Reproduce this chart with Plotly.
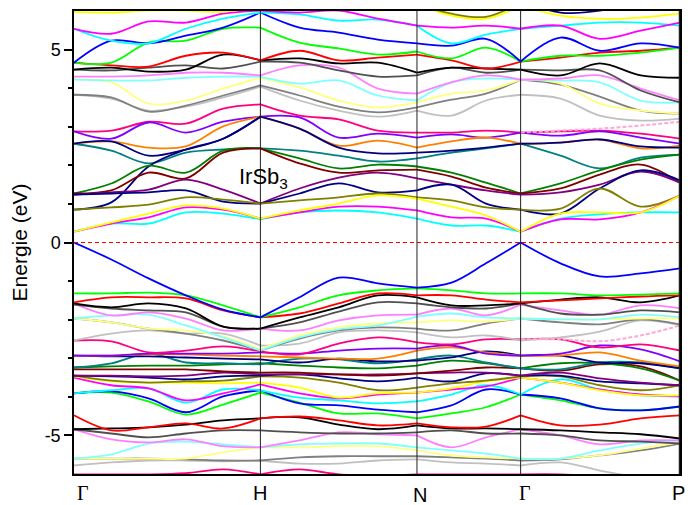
import plotly.graph_objects as go

# k-path sampling (path length units, Gamma-H = 1)
K = [0.0, 0.2, 0.4, 0.6, 0.8, 1.0, 1.21, 1.42, 1.63, 1.84, 2.025, 2.21, 2.396, 2.61, 2.82, 3.04, 3.251]
HIGH_SYM = [0.0, 1.0, 1.84, 2.396, 3.251]
HIGH_SYM_LABELS = ["Γ", "H", "N", "Γ", "P"]
SEG_IDX = [(0, 5), (5, 9), (9, 12), (12, 16)]
N_ = None

# ---- conduction bands (eV) ----
CB_CYAN = [0.28,0.49,0.49,0.78,0.75,0.60,0.78,0.83,0.78,0.62,0.44,0.44,0.28,0.62,0.73,0.78,0.78]
CB_YELLOW = [0.28,0.52,0.75,0.96,0.88,0.62,0.83,1.01,1.22,1.14,0.93,0.70,0.28,0.75,0.78,0.78,1.22]
CB_MAGENTA = [0.28,0.49,0.65,0.91,0.85,0.62,0.78,0.93,0.93,0.83,0.65,0.62,0.28,0.60,0.60,0.78,1.22]
CB_OLIVE = [0.85,0.91,0.98,1.17,1.11,1.01,1.09,1.17,1.27,1.17,1.09,0.91,0.85,0.88,1.40,0.93,1.22]
CB_NAVY1 = [1.24,1.27,1.30,1.35,1.06,1.01,1.27,1.53,1.30,1.35,1.50,1.01,0.85,0.75,1.40,1.87,1.61]
CB_NAVY2 = [0.85,1.04,1.97,2.41,2.69,3.26,2.95,2.46,2.31,2.33,2.38,2.46,2.56,2.59,2.67,2.49,2.46]
CB_NAVY3 = [2.56,2.62,2.25,2.41,2.69,3.26,N_,N_,N_,N_,N_,N_,N_,N_,N_,N_,N_]
CB_GREENDK = [1.27,1.53,1.99,1.81,2.38,2.44,2.18,1.92,2.02,1.97,1.81,1.55,1.27,1.53,1.87,2.15,2.28]
CB_MAROON = [1.27,1.35,1.81,1.66,2.33,2.44,2.05,1.81,1.87,1.89,1.71,1.42,1.27,1.40,1.76,2.02,1.55]
CB_PURPLE = [1.24,1.30,1.37,1.63,1.37,1.01,1.40,1.68,1.81,1.66,1.50,1.35,1.24,1.30,1.50,1.84,1.55]
CB_ORANGE = [2.56,2.62,2.46,2.49,3.01,3.26,2.95,2.51,2.64,2.46,2.62,2.72,2.56,2.59,2.67,2.44,2.51]
CB_TEAL = [2.56,2.38,2.05,2.33,2.41,2.44,2.38,2.25,2.10,2.18,2.33,2.44,2.56,2.25,1.92,2.20,2.28]
CB_VIOLET = [2.88,2.69,3.11,2.85,3.13,3.26,3.24,2.72,2.82,2.72,2.80,2.72,2.85,2.77,2.88,2.72,2.56]
CB_HOTPINK = [2.88,2.90,3.13,3.08,3.47,3.58,3.29,3.19,2.90,2.85,2.85,2.90,2.85,2.88,2.90,2.82,2.69]
CB_PINK_DASH = [N_]*12 + [2.85,2.90,2.95,3.03,3.13]
CB_LTGRAY = [3.83,3.73,3.42,3.52,3.76,4.04,3.68,3.42,3.26,3.42,3.29,3.68,3.83,3.73,3.29,3.16,3.21]
CB_GRAY = [3.83,3.76,3.39,3.55,3.81,4.07,3.81,3.52,3.37,3.50,3.70,3.86,4.22,4.09,3.78,3.42,3.34]
CB_LTYELLOW = [4.22,4.15,3.60,3.68,3.99,4.27,4.02,3.68,3.50,3.63,3.86,3.94,4.22,4.12,3.60,3.42,3.34]
CB_LTCYAN = [4.22,4.20,4.20,4.27,4.30,4.30,4.12,4.20,3.81,3.68,4.15,4.25,4.22,4.20,4.15,3.68,3.63]
CB_LTMAGENTA = [4.30,4.30,4.33,4.40,4.40,4.33,4.59,4.53,3.99,3.86,4.15,4.33,4.22,4.25,4.33,3.99,3.68]
CB_DKGRAY = [4.48,4.46,4.53,4.59,4.51,4.69,4.66,4.46,4.30,4.33,4.53,4.40,4.48,4.46,4.46,3.94,3.63]
CB_BLACK = [4.48,4.53,4.43,4.48,4.87,4.72,4.77,4.64,4.66,4.40,4.53,4.51,4.48,4.33,4.64,4.33,4.27]
CB_RED = [4.66,4.59,4.56,4.84,4.92,4.72,4.97,4.72,4.79,4.87,4.72,4.51,4.69,4.79,4.92,4.97,5.05]
CB_GREEN = [4.66,4.66,5.18,5.23,5.54,5.57,5.18,5.03,4.87,4.95,4.77,5.05,4.69,4.84,4.84,4.92,5.05]
CB_BLUE = [4.66,5.23,5.16,5.36,5.57,5.96,5.57,5.44,5.26,5.16,5.10,5.28,4.69,5.31,4.97,5.16,5.05]
CB_CYAN2 = [5.54,5.23,5.16,5.54,5.80,5.96,5.91,5.75,5.78,5.62,5.16,5.39,5.54,5.62,5.70,5.70,5.62]
CB_MAGENTA2 = [5.54,5.41,5.73,5.70,5.93,6.01,5.96,6.01,5.80,5.62,5.57,5.62,5.54,5.62,5.28,5.49,5.70]
CB_YELLOW2 = [5.98,5.96,6.01,6.01,5.98,6.11,6.14,6.14,6.01,6.17,5.88,5.80,6.14,5.88,5.80,5.83,5.93]
CB_OLIVE2 = [N_]*9 + [6.19,5.93,5.85,6.22] + [N_]*4
CB_NAVY_TOP = [N_]*12 + [6.27,5.96,6.01,6.27,N_]

# ---- valence bands (eV) ----
VB_BLUE = [0.00,-0.44,-0.93,-1.37,-1.74,-1.94,-1.42,-0.91,-1.06,-1.17,-1.04,-0.54,0.00,-0.54,-0.88,-0.80,-0.67]
VB_GREEN = [-1.32,-1.32,-1.30,-1.37,-1.63,-1.94,-1.68,-1.37,-1.24,-1.19,-1.24,-1.32,-1.32,-1.32,-1.37,-1.35,-1.32]
VB_RED = [-1.55,-1.42,-1.42,-1.45,-1.76,-1.94,-1.84,-1.58,-1.32,-1.37,-1.37,-1.48,-1.55,-1.50,-1.45,-1.40,-1.37]
VB_BLACK = [-1.58,-1.68,-1.58,-1.71,-2.18,-2.23,-1.94,-1.68,-1.37,-1.42,-1.63,-1.63,-1.58,-1.48,-1.42,-1.55,-1.37]
VB_DKGRAY = [-1.61,-1.71,-1.76,-1.81,-2.18,-2.23,-2.07,-1.79,-1.55,-1.58,-1.68,-1.71,-1.58,-1.84,-1.87,-1.76,-1.81]
VB_LTMAGENTA = [-1.58,-1.89,-1.81,-1.97,-2.28,-2.23,-2.28,-2.02,-1.89,-1.87,-1.71,-1.89,-1.61,-1.76,-1.87,-1.63,-1.71]
VB_LTCYAN = [-1.97,-1.89,-1.87,-2.15,-2.46,-2.80,-2.46,-2.25,-2.15,-1.92,-1.84,-1.94,-1.97,-1.99,-1.99,-1.87,-1.94]
VB_LTYELLOW = [-1.97,-2.07,-2.23,-2.28,-2.44,-2.77,-2.41,-2.20,-2.10,-2.07,-2.02,-2.05,-1.97,-1.99,-1.99,-1.97,-1.97]
VB_GRAY = [-1.97,-2.07,-2.23,-2.36,-2.54,-2.80,-2.49,-2.28,-2.20,-2.23,-2.28,-2.10,-1.97,-2.07,-2.12,-1.99,-2.12]
VB_LTGRAY = [-2.54,-2.36,-2.28,-2.36,-2.36,-2.67,-2.62,-2.33,-2.28,-2.33,-2.46,-2.41,-2.54,-2.46,-2.31,-2.02,-2.15]
VB_HOTPINK = [-2.54,-2.56,-2.85,-2.80,-2.69,-2.82,-2.90,-2.62,-2.46,-2.59,-2.64,-2.51,-2.51,-2.51,-2.72,-2.64,-2.80]
VB_PINK_DASH = [N_]*12 + [-2.51,-2.51,-2.56,-2.41,-2.15]
VB_VIOLET = [-2.93,-2.93,-2.88,-2.88,-2.88,-2.85,-2.88,-2.80,-2.75,-2.75,-2.67,-2.88,-2.93,-2.88,-2.67,-2.77,-3.08]
VB_ORANGE = [-2.93,-2.93,-2.90,-2.90,-2.93,-2.95,-2.98,-3.01,-3.01,-2.80,-2.72,-2.85,-2.93,-2.93,-2.85,-3.06,-3.21]
VB_NAVY = [-2.93,-2.95,-2.95,-2.98,-3.01,-3.03,-3.11,-3.01,-3.08,-3.06,-2.98,-2.82,-2.93,-2.93,-3.11,-3.13,-3.26]
VB_TEAL = [-3.24,-3.13,-2.88,-3.11,-3.13,-3.16,-3.01,-3.03,-3.13,-3.03,-2.93,-3.11,-3.26,-3.29,-3.11,-3.11,-3.26]
VB_GREENDK = [-3.24,-3.21,-3.19,-3.19,-3.16,-3.13,-3.19,-3.24,-3.26,-3.19,-3.06,-3.13,-3.26,-3.13,-3.13,-3.26,-3.58]
VB_MAROON = [-3.29,-3.29,-3.29,-3.29,-3.34,-3.37,-3.37,-3.42,-3.45,-3.39,-3.32,-3.24,-3.26,-3.32,-3.16,-3.21,-3.58]
VB_PURPLE = [-3.45,-3.45,-3.47,-3.45,-3.37,-3.42,-3.42,-3.42,-3.42,-3.39,-3.37,-3.37,-3.45,-3.37,-3.52,-3.63,-3.70]
VB_NAVY2 = [-3.45,-3.47,-3.50,-3.55,-3.47,-3.45,-3.42,-3.52,-3.60,-3.50,-3.60,-3.39,-3.45,-3.45,-3.60,-3.65,-3.70]
VB_OLIVE = [-3.45,-3.58,-3.63,-3.60,-3.58,-3.47,-3.50,-3.63,-3.83,-3.76,-3.65,-3.58,-3.47,-3.47,-3.70,-3.83,-3.70]
VB_YELLOW = [-3.47,-3.60,-3.63,-3.63,-3.65,-3.63,-3.76,-4.02,-3.91,-3.89,-3.78,-3.60,-3.50,-3.63,-3.83,-3.96,-3.96]
VB_MAGENTA = [-3.50,-3.70,-3.78,-4.09,-3.91,-3.68,-3.91,-4.04,-3.94,-3.89,-3.81,-3.73,-3.50,-3.63,-3.81,-3.94,-3.99]
VB_CYAN = [-3.91,-3.83,-3.78,-4.15,-3.81,-3.83,-4.02,-4.09,-4.17,-4.12,-3.94,-3.70,-3.94,-3.55,-3.81,-3.96,-3.99]
VB_BLUE2 = [-3.91,-3.86,-4.04,-4.40,-3.99,-3.83,-4.17,-4.22,-4.33,-4.40,-4.22,-3.81,-3.94,-4.04,-4.30,-4.35,-4.25]
VB_GREEN2 = [-3.91,-3.89,-4.12,-4.46,-4.20,-3.89,-4.15,-4.43,-4.43,-4.56,-4.43,-4.27,-3.94,-4.09,-4.30,-4.35,-4.25]
VB_RED2 = [-4.48,-4.87,-4.79,-4.69,-4.82,-4.56,-4.51,-4.61,-4.74,-4.69,-4.79,-4.77,-4.48,-4.74,-4.72,-4.56,-4.48]
VB_BLACK2 = [-4.84,-4.82,-4.79,-4.72,-4.61,-4.56,-4.53,-4.72,-4.84,-4.74,-4.82,-4.82,-4.84,-4.87,-4.92,-4.97,-5.08]
VB_DKGRAY2 = [-4.84,-4.95,-5.05,-4.95,-4.87,-4.87,-4.92,-4.95,-4.95,-4.92,-4.87,-4.95,-4.95,-5.00,-5.13,-5.16,-5.21]
VB_LTMAGENTA2 = [-4.84,-5.10,-5.18,-5.10,-5.28,-5.31,-5.13,-4.92,-4.97,-5.00,-5.31,-5.05,-4.84,-5.00,-5.23,-5.13,-5.13]
VB_LTCYAN2 = [-5.60,-5.49,-5.21,-5.16,-5.23,-5.31,-5.23,-5.21,-5.21,-5.31,-5.39,-5.47,-5.60,-5.60,-5.39,-5.21,-5.13]
VB_LTYELLOW2 = [-5.60,-5.60,-5.60,-5.60,-5.44,-5.31,-5.31,-5.28,-5.28,-5.39,-5.52,-5.57,-5.60,-5.60,-5.52,-5.34,-5.18]
VB_GRAY2 = [-5.60,-5.60,-5.60,-5.62,-5.65,-5.65,-5.57,-5.54,-5.54,-5.54,-5.57,-5.60,-5.65,-5.62,-5.52,-5.39,-5.21]
VB_LTGRAY2 = [-5.78,-5.70,-5.65,-5.65,-5.67,-5.65,-5.73,-5.73,-5.65,-5.62,-5.70,-5.73,-5.78,-5.70,-5.91,-6.11,-6.30]
VB_HOTPINK2 = [-6.01,-6.01,-6.01,-5.98,-5.88,-6.01,-5.88,-6.01,-6.04,-6.01,-6.01,-6.01,-6.01,-6.01,-6.06,-6.11,-6.17]

# Origin-like palette
BLUE, RED, GREEN, BLACK = "#0000FF", "#FF0000", "#00FF00", "#000000"
DKGRAY, GRAY, LTGRAY = "#505050", "#808080", "#C0C0C0"
LTMAG, LTCYAN, LTYEL = "#FF80FF", "#80FFFF", "#FFFF80"
HOTPINK, VIOLET, ORANGE, NAVY = "#FF0080", "#8000FF", "#FF8000", "#000080"
TEAL, GREENDK, MAROON, PURPLE, OLIVE = "#008080", "#008000", "#800000", "#800080", "#808000"
YELLOW, MAGENTA, CYAN = "#FFFF00", "#FF00FF", "#00FFFF"
PINKDASH = "#FFA8D4"

BANDS = [
    (CB_LTGRAY, LTGRAY), (CB_GRAY, GRAY), (CB_LTYELLOW, LTYEL), (CB_LTCYAN, LTCYAN),
    (CB_LTMAGENTA, LTMAG), (CB_DKGRAY, DKGRAY), (CB_BLACK, BLACK), (CB_RED, RED),
    (CB_GREEN, GREEN), (CB_BLUE, BLUE), (CB_CYAN2, CYAN), (CB_MAGENTA2, MAGENTA),
    (CB_YELLOW2, YELLOW), (CB_OLIVE2, OLIVE), (CB_NAVY_TOP, NAVY),
    (CB_HOTPINK, HOTPINK), (CB_VIOLET, VIOLET), (CB_TEAL, TEAL), (CB_ORANGE, ORANGE),
    (CB_NAVY3, NAVY), (CB_NAVY2, NAVY), (CB_GREENDK, GREENDK), (CB_MAROON, MAROON),
    (CB_PURPLE, PURPLE), (CB_NAVY1, NAVY), (CB_OLIVE, OLIVE),
    (CB_CYAN, CYAN), (CB_MAGENTA, MAGENTA), (CB_YELLOW, YELLOW),
    (VB_LTGRAY2, LTGRAY), (VB_GRAY2, GRAY), (VB_LTYELLOW2, LTYEL), (VB_LTCYAN2, LTCYAN),
    (VB_LTMAGENTA2, LTMAG), (VB_DKGRAY2, DKGRAY), (VB_BLACK2, BLACK), (VB_RED2, RED),
    (VB_HOTPINK2, HOTPINK),
    (VB_GREEN2, GREEN), (VB_BLUE2, BLUE), (VB_CYAN, CYAN), (VB_MAGENTA, MAGENTA),
    (VB_YELLOW, YELLOW), (VB_OLIVE, OLIVE), (VB_NAVY2, NAVY), (VB_PURPLE, PURPLE),
    (VB_MAROON, MAROON), (VB_GREENDK, GREENDK), (VB_TEAL, TEAL), (VB_NAVY, NAVY),
    (VB_ORANGE, ORANGE), (VB_VIOLET, VIOLET), (VB_HOTPINK, HOTPINK),
    (VB_LTGRAY, LTGRAY), (VB_GRAY, GRAY), (VB_LTYELLOW, LTYEL), (VB_LTCYAN, LTCYAN),
    (VB_LTMAGENTA, LTMAG), (VB_DKGRAY, DKGRAY), (VB_BLACK, BLACK), (VB_RED, RED),
    (VB_GREEN, GREEN), (VB_BLUE, BLUE),
]
DASHED = [CB_PINK_DASH, VB_PINK_DASH]

fig = go.Figure()

def add_band(vals, color, dash=None, width=1.8):
    for a, b in SEG_IDX:
        xs = K[a:b + 1]
        ys = vals[a:b + 1]
        if all(v is None for v in ys):
            continue
        fig.add_trace(go.Scatter(
            x=xs, y=ys, mode="lines",
            line=dict(color=color, width=width, shape="spline", dash=dash),
            hoverinfo="skip", showlegend=False, cliponaxis=True))

for vals, color in BANDS:
    add_band(vals, color)
for vals in DASHED:
    add_band(vals, PINKDASH, dash="4px,2px", width=2)

# Fermi level
fig.add_shape(type="line", x0=HIGH_SYM[0], x1=HIGH_SYM[-1], y0=0, y1=0,
              line=dict(color="#FF0000", width=1, dash="4px,3px"), layer="above")
# high-symmetry separators
for xv in HIGH_SYM[1:-1]:
    fig.add_shape(type="line", x0=xv, x1=xv, y0=0, y1=1, yref="paper",
                  line=dict(color="#202020", width=1), layer="above")
# right frame (thicker)
fig.add_shape(type="line", x0=HIGH_SYM[-1], x1=HIGH_SYM[-1], y0=0, y1=1, yref="paper",
              line=dict(color="#202020", width=2.5), layer="above")

SANS = "Liberation Sans, Arial, sans-serif"
SERIF = "Liberation Serif, Times New Roman, serif"

for i, (xv, lab) in enumerate(zip(HIGH_SYM, HIGH_SYM_LABELS)):
    xshift = {0: 9, 1: 0, 2: 3, 3: 4, 4: -2}[i]
    fig.add_annotation(x=xv, y=0, yref="paper", text=lab, showarrow=False,
                       xanchor="center", yanchor="middle", xshift=xshift,
                       yshift=-19 if lab != "N" else -21,
                       font=dict(family=SERIF if lab == "Γ" else SANS, size=20, color="black"))

fig.add_annotation(x=0.875, y=1.68, text="IrSb<sub>3</sub>", showarrow=False,
                   xanchor="left", yanchor="middle",
                   font=dict(family=SANS, size=22, color="black"))

fig.update_layout(
    width=691, height=505,
    margin=dict(l=74, r=9, t=10, b=31),
    paper_bgcolor="white", plot_bgcolor="white",
    showlegend=False,
    xaxis=dict(range=[HIGH_SYM[0], HIGH_SYM[-1]], showgrid=False, zeroline=False,
               showticklabels=False, ticks="", showline=True, mirror=True,
               linecolor="black", linewidth=1.5),
    yaxis=dict(range=[-6, 6], showgrid=False, zeroline=False,
               tickmode="array", tickvals=[-5, 0, 5], ticktext=["-5", "0", "5"],
               ticks="outside", ticklen=8, tickwidth=1.5, tickcolor="black",
               minor=dict(tickmode="array", tickvals=[-4, -3, -2, -1, 1, 2, 3, 4],
                          ticks="outside", ticklen=4, tickwidth=1.5, tickcolor="black"),
               tickfont=dict(family=SANS, size=18, color="black"),
               showline=True, mirror=True, linecolor="black", linewidth=1.5,
               title=dict(text="Energie (eV)", font=dict(family=SANS, size=21, color="black"),
                          standoff=11)),
)

fig.write_html("out.html")
